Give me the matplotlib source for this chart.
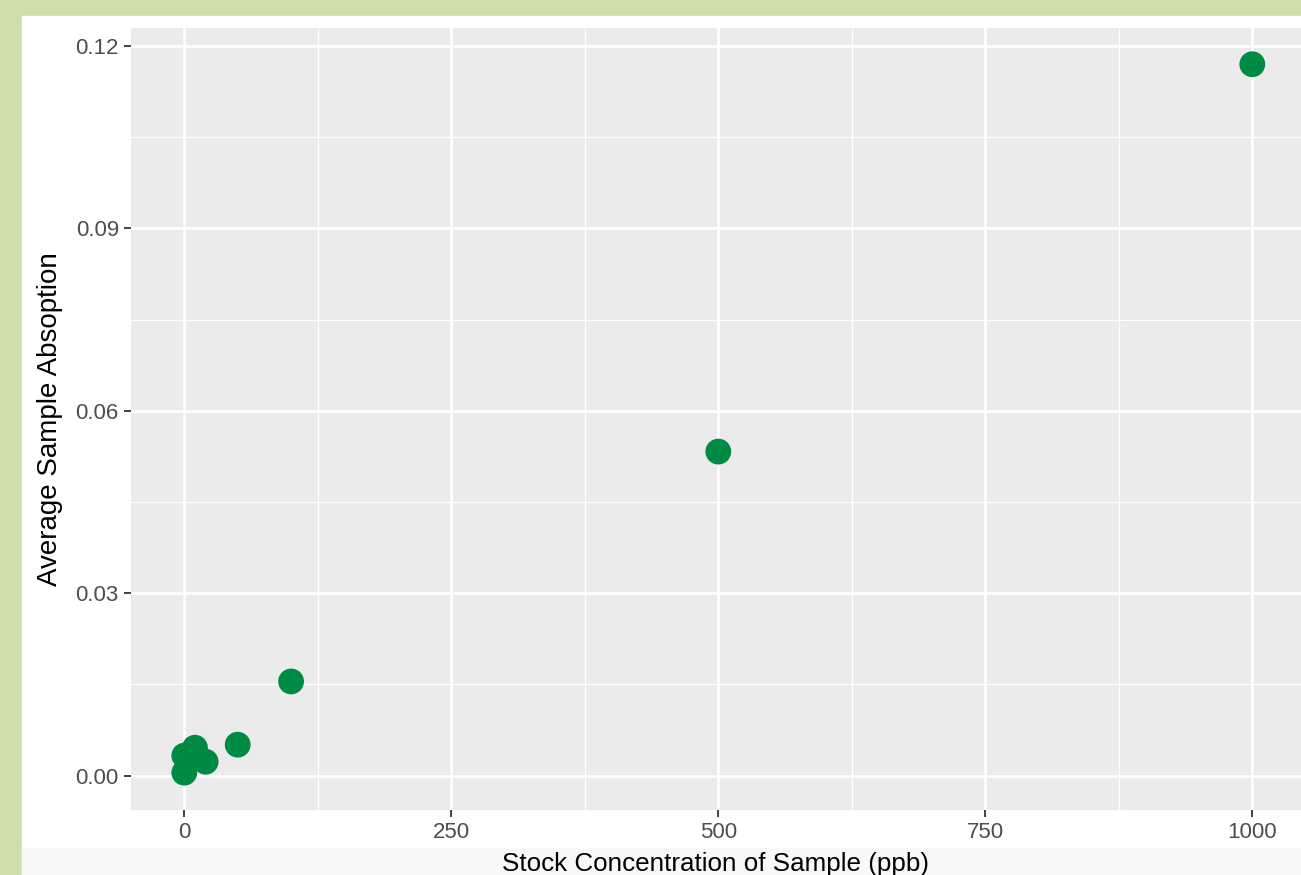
import matplotlib.pyplot as plt
from matplotlib.patches import Rectangle
from matplotlib.ticker import MultipleLocator

# stock concentration (ppb) and average absorption
concentration = [0, 0, 10, 20, 50, 100, 500, 1000]
absorption = [0.0033, 0.0005, 0.0046, 0.0023, 0.0051, 0.0155, 0.0533, 0.1170]

x_ticks = [0, 250, 500, 750, 1000]
y_ticks = [0.00, 0.03, 0.06, 0.09, 0.12]
y_tick_labels = ["0.00", "0.03", "0.06", "0.09", "0.12"]

plt.rcParams['font.family'] = ['Liberation Sans', 'DejaVu Sans']

W, H = 1301, 875
fig = plt.figure(figsize=(W / 100, H / 100), dpi=100, facecolor="#cedeab")

# white plot background and light strip at the bottom of the screenshot
fig.patches.append(Rectangle((22 / W, 27 / H), 1, (848 - 16) / H,
                             transform=fig.transFigure, color="white", zorder=-5))
fig.patches.append(Rectangle((22 / W, 0), 1, 27 / H,
                             transform=fig.transFigure, color="#f8f8f8", zorder=-5))

ax = fig.add_axes([131 / W, (H - 810) / H, (1301 - 131) / W, (810 - 28) / H])
ax.set_facecolor("#ebebeb")
for s in ax.spines.values():
    s.set_visible(False)

ax.set_xlim(-49.9, 1045.6)
ax.set_ylim(-0.00564, 0.12296)
ax.set_xticks(x_ticks)
ax.set_yticks(y_ticks)
ax.set_yticklabels(y_tick_labels)
ax.xaxis.set_minor_locator(MultipleLocator(125))
ax.yaxis.set_minor_locator(MultipleLocator(0.015))

ax.grid(which="major", color="white", lw=1.9)
ax.grid(which="minor", color="white", lw=0.9)
ax.set_axisbelow(True)

ax.tick_params(which="major", length=4.8, width=1.3, color="#333333",
               labelcolor="#4d4d4d", labelsize=16, pad=4)
ax.tick_params(which="minor", length=0)

ax.scatter(concentration, absorption, s=345, color="#008b45", edgecolors="none",
           zorder=3, clip_on=False)

ax.set_xlabel("Stock Concentration of Sample (ppb)", fontsize=18.7, color="black",
              labelpad=6)
ax.set_ylabel("Average Sample Absoption", fontsize=20, color="black", labelpad=9)

fig.savefig("out.png", dpi=100, facecolor=fig.get_facecolor())
